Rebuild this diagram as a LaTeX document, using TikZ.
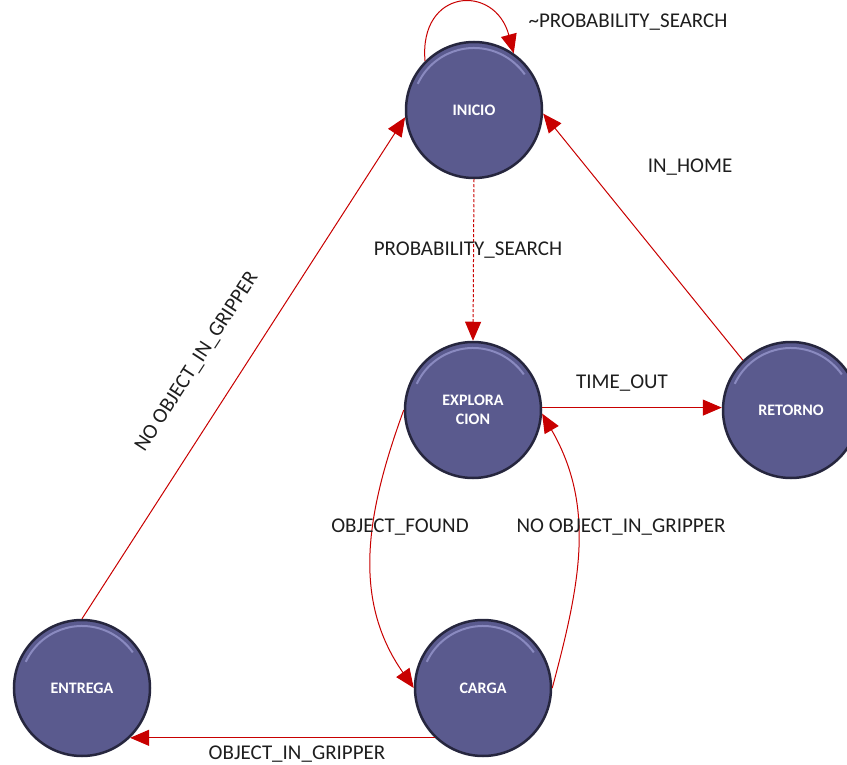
\documentclass[tikz,border=0pt]{standalone}
\usepackage{fontspec}
\setmainfont{Carlito}
\usetikzlibrary{arrows.meta}
\definecolor{estadofondo}{RGB}{90,90,142}
\definecolor{estadoborde}{RGB}{38,38,62}
\definecolor{estadobrillo}{RGB}{150,150,205}
\definecolor{transicion}{RGB}{200,0,0}
\definecolor{etiqueta}{RGB}{30,30,30}
\begin{document}
\begin{tikzpicture}[x=1pt, y=1pt,
    estado/.style={circle, minimum size=136pt, inner sep=0pt, fill=estadofondo,
      draw=estadoborde, line width=2.5pt, text=white, align=center,
      font=\bfseries\fontsize{16}{19}\selectfont,
      path picture={\draw[estadobrillo, line width=2pt, opacity=0.8]
        (path picture bounding box.center) ++(155:62pt)
        arc[start angle=155, end angle=35, radius=62pt];}},
    trans/.style={-{Triangle[length=19pt, width=16pt]}, transicion, line width=1pt},
    rotulo/.style={text=etiqueta, font=\fontsize{21}{24}\selectfont}]
    \useasboundingbox (0,0) rectangle (847,-765);
    \clip (0,0) rectangle (847,-765);

    % estados
    \node[estado] (inicio) at (474, -110) {INICIO};
    \node[estado] (explo) at (473, -410) {EXPLORA\\CION};
    \node[estado] (retorno) at (791, -410) {RETORNO};
    \node[estado] (carga) at (483, -688) {CARGA};
    \node[estado] (entrega) at (82, -688) {ENTREGA};

    % transiciones
    \draw[trans] (inicio.135) to[out=95, in=105, looseness=2.1] (inicio.55);
    \draw[trans, dash pattern=on 3pt off 2pt] (inicio.south) -- (explo.north);
    \draw[trans] (retorno.134) -- (inicio.-3);
    \draw[trans] (explo.2) -- (retorno.178);
    \draw[trans] (explo.west) to[out=-110, in=125] (carga.west);
    \draw[trans] (carga.east) to[out=75, in=-60] (explo.-3);
    \draw[trans] (carga.226) -- (entrega.-46);
    \draw[trans] (entrega.north) -- (inicio.186);

    % etiquetas
    \node[rotulo] (nosearch) at (628, -22) {\textasciitilde PROBABILITY\_SEARCH};
    \node[rotulo] (search) at (468, -250) {PROBABILITY\_SEARCH};
    \node[rotulo] (home) at (690, -167) {IN\_HOME};
    \node[rotulo] (timeout) at (622, -383) {TIME\_OUT};
    \node[rotulo] (found) at (400, -527) {OBJECT\_FOUND};
    \node[rotulo] (nogrip) at (621, -527) {NO OBJECT\_IN\_GRIPPER};
    \node[rotulo] (grip) at (297, -754) {OBJECT\_IN\_GRIPPER};
    \node[rotulo, rotate=57] (nogripb) at (197, -362) {NO OBJECT\_IN\_GRIPPER};
\end{tikzpicture}
\end{document}
